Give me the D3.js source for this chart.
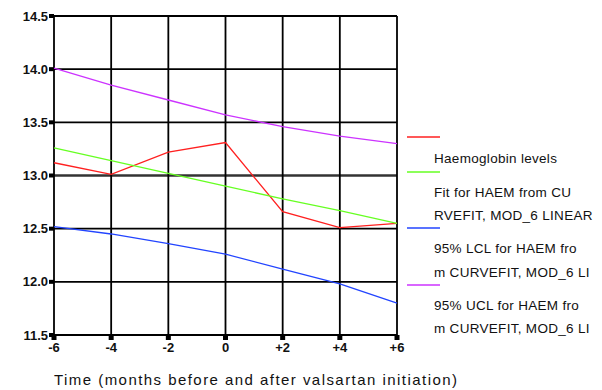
<!DOCTYPE html>
<html>
<head>
<meta charset="utf-8">
<script src="https://cdn.jsdelivr.net/npm/d3@7"></script>
<style>
  body { margin: 0; background: #fff; }
  svg text { font-family: "Liberation Sans", Arial, sans-serif; }
</style>
</head>
<body>
<svg id="chart" width="602" height="390"></svg>
<script>
// months relative to valsartan start
var months = [-6, -4, -2, 0, 2, 4, 6];
var tickLabels = ['-6', '-4', '-2', '0', '+2', '+4', '+6'];
var yTicks = [11.5, 12.0, 12.5, 13.0, 13.5, 14.0, 14.5];

var haem = [13.12, 13.01, 13.22, 13.31, 12.66, 12.51, 12.55];
var fit = [13.26, 13.14, 13.02, 12.90, 12.78, 12.67, 12.55];
var lcl = [12.52, 12.45, 12.36, 12.26, 12.12, 11.98, 11.80];
var ucl = [14.01, 13.85, 13.71, 13.57, 13.46, 13.37, 13.30];

var seriesNames = [
  ['Haemoglobin levels'],
  ['Fit for HAEM from CU', 'RVEFIT, MOD_6 LINEAR'],
  ['95% LCL for HAEM fro', 'm CURVEFIT, MOD_6 LI'],
  ['95% UCL for HAEM fro', 'm CURVEFIT, MOD_6 LI']
];
var seriesColors = ['#ff2020', '#66ff22', '#2244ff', '#cc33ff'];

var svg = d3.select('#chart');
var x = d3.scaleLinear().domain([-6, 6]).range([54, 397]);
var y = d3.scaleLinear().domain([11.5, 14.5]).range([335, 16]);

// grid
svg.append('g').selectAll('line.h')
  .data(yTicks)
  .enter().append('line')
  .attr('x1', x(-6)).attr('x2', x(6))
  .attr('y1', function(d){ return y(d); })
  .attr('y2', function(d){ return y(d); })
  .attr('stroke', function(d){ return d === 13.0 ? '#333' : '#000'; })
  .attr('stroke-width', function(d){ return d === 13.0 ? 2.5 : 1.8; });

svg.append('g').selectAll('line.v')
  .data(months)
  .enter().append('line')
  .attr('y1', y(11.5)).attr('y2', y(14.5))
  .attr('x1', function(d){ return x(d); })
  .attr('x2', function(d){ return x(d); })
  .attr('stroke', '#000')
  .attr('stroke-width', 1.8);

// tick squares
svg.append('g').selectAll('rect')
  .data(yTicks)
  .enter().append('rect')
  .attr('x', x(-6) - 5).attr('y', function(d){ return y(d) - 2; })
  .attr('width', 5).attr('height', 4).attr('fill', '#000');

svg.append('g').selectAll('rect')
  .data(months)
  .enter().append('rect')
  .attr('x', function(d){ return x(d) - 2.5; }).attr('y', y(11.5))
  .attr('width', 5).attr('height', 5).attr('fill', '#000');

// tick labels
svg.append('g').selectAll('text')
  .data(yTicks)
  .enter().append('text')
  .attr('x', 48).attr('y', function(d){ return y(d) + 4.5; })
  .attr('text-anchor', 'end')
  .attr('font-size', 13).attr('font-weight', 'bold').attr('fill', '#111')
  .text(function(d){ return d.toFixed(1); });

svg.append('g').selectAll('text')
  .data(months)
  .enter().append('text')
  .attr('x', function(d){ return x(d); }).attr('y', 352)
  .attr('text-anchor', 'middle')
  .attr('font-size', 13).attr('font-weight', 'bold').attr('fill', '#111')
  .text(function(d, i){ return tickLabels[i]; });

// series lines
var line = d3.line()
  .x(function(d, i){ return x(months[i]); })
  .y(function(d){ return y(d); });

[haem, fit, lcl, ucl].forEach(function(s, i){
  svg.append('path')
    .datum(s)
    .attr('d', line)
    .attr('fill', 'none')
    .attr('stroke', seriesColors[i])
    .attr('stroke-width', 1.3);
});

// legend
var legendLineY = [137, 172, 228, 285];
var legendTextY = [[163], [197, 220], [253, 277], [310, 333]];
seriesNames.forEach(function(lines, i){
  svg.append('line')
    .attr('x1', 407).attr('x2', 440)
    .attr('y1', legendLineY[i]).attr('y2', legendLineY[i])
    .attr('stroke', seriesColors[i]).attr('stroke-width', 1.3);
  lines.forEach(function(t, j){
    svg.append('text')
      .attr('x', 434).attr('y', legendTextY[i][j])
      .attr('font-size', 13.5).attr('fill', '#111')
      .attr('letter-spacing', 0.3)
      .text(t);
  });
});

// axis title
svg.append('text')
  .attr('x', 54).attr('y', 385)
  .attr('font-size', 15).attr('fill', '#111')
  .attr('textLength', 403).attr('lengthAdjust', 'spacing')
  .text('Time (months before and after valsartan initiation)');
</script>
</body>
</html>
